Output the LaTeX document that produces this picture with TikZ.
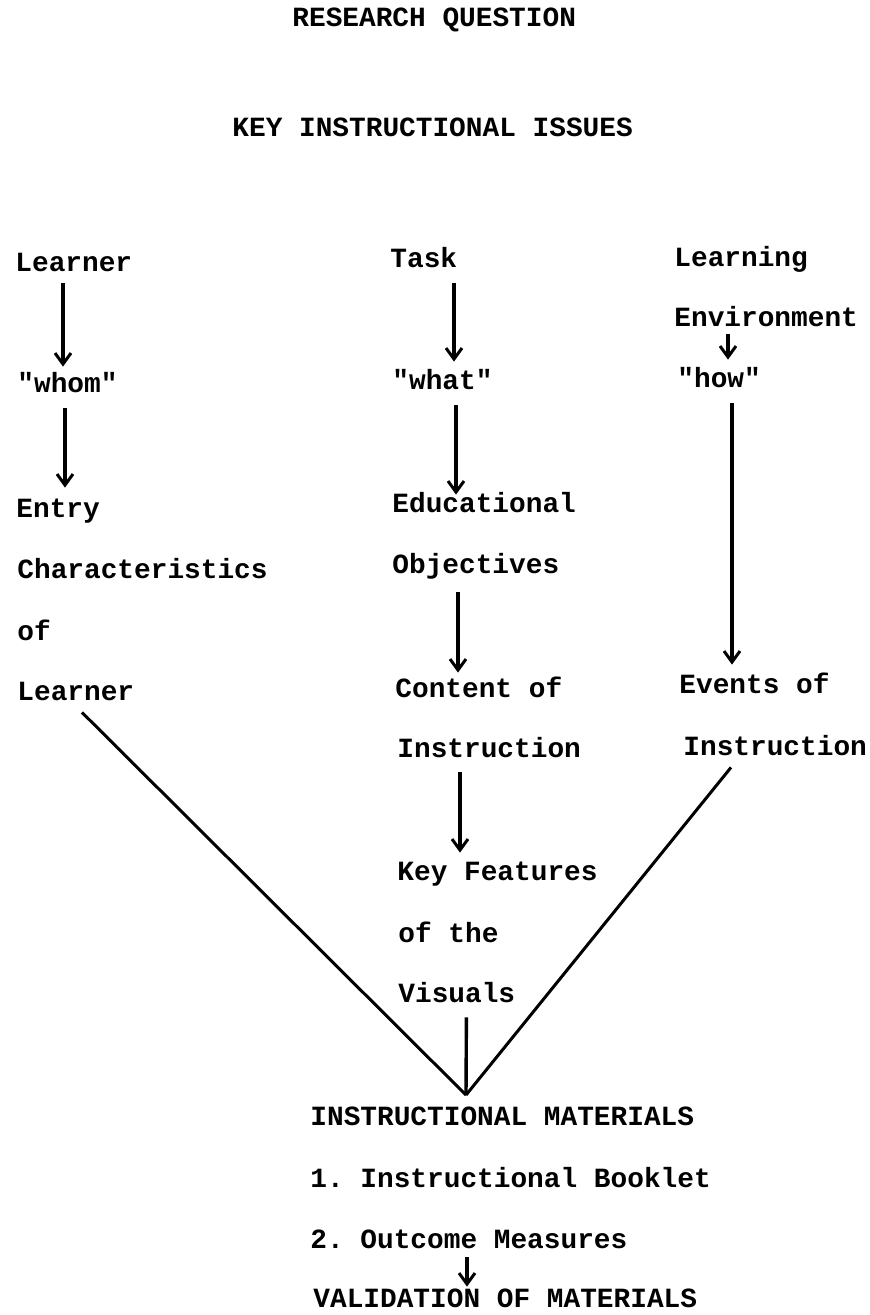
\documentclass[tikz,border=0pt]{standalone}
\usepackage{fontspec}
\setmainfont{Liberation Mono}
\usetikzlibrary{arrows.meta}
\frenchspacing

\begin{document}
\begin{tikzpicture}[x=0.5pt,y=-0.5pt,
    every node/.style={anchor=base west,inner sep=0pt,text height=8pt,text depth=2.5pt,
        font=\fontsize{13.9pt}{16pt}\selectfont\bfseries},
    arr/.style={-{Straight Barb[length=5.5pt,width=8pt,line width=1.5pt]},line width=1.6pt,shorten <=5pt,shorten >=5pt},
    ln/.style={line width=1.5pt,line join=round}]
                    \useasboundingbox (0,0) rectangle (869,1315);

                    \node (rq) at (292,27){RESEARCH QUESTION};
                    \node (kii) at (232,137){KEY INSTRUCTIONAL ISSUES};

                    % learner column
                    \node (learner) at (15,272){Learner};
                    \node (whom) at (17,393){\textquotedbl whom\textquotedbl};
                    \node (entry) at (16,517){Entry};
                    \node (charac) at (17,578){Characteristics};
                    \node (ofl) at (17,640){of};
                    \node (learnerb) at (17,700){Learner};

                    % task column
                    \node (task) at (390,268){Task};
                    \node (what) at (392,390){\textquotedbl what\textquotedbl};
                    \node (educ) at (392,512){Educational};
                    \node (obj) at (392,573){Objectives};
                    \node (content) at (395,697){Content of};
                    \node (instr) at (397,757){Instruction};
                    \node (keyf) at (397,880){Key Features};
                    \node (ofthe) at (398,942){of the};
                    \node (visuals) at (398,1002){Visuals};

                    % environment column
                    \node (learning) at (674,267){Learning};
                    \node (env) at (674,327){Environment};
                    \node (how) at (677,388){\textquotedbl how\textquotedbl};
                    \node (events) at (679,693){Events of};
                    \node (instrb) at (683,755){Instruction};

                    \node (im) at (310,1125){INSTRUCTIONAL MATERIALS};
                    \node (booklet) at (310,1187){1. Instructional Booklet};
                    \node (outcome) at (310,1248){2. Outcome Measures};
                    \node (valid) at (313,1307){VALIDATION OF MATERIALS};
                    \coordinate (vertex) at (466,1095);

                    \draw[arr,shorten <=3pt] ([xshift=24pt]learner.south west) -- ([xshift=24pt]learner.south west |- whom.north);
                    \draw[arr,shorten >=6.5pt] ([xshift=24pt]whom.south west) -- ([xshift=24pt]whom.south west |- entry.north);
                    \draw[arr,shorten >=6pt] ([xshift=32pt]task.south west) -- ([xshift=32pt]task.south west |- what.north);
                    \draw[arr,shorten >=0.5pt] ([xshift=32pt]what.south west) -- ([xshift=32pt]what.south west |- educ.north);
                    \draw[arr,shorten <=7pt,shorten >=4pt] ([xshift=33pt]obj.south west) -- ([xshift=33pt]obj.south west |- content.north);
                    \draw[arr,shorten >=5.5pt] ([xshift=31.5pt]instr.south west) -- ([xshift=31.5pt]instr.south west |- keyf.north);
                    \draw[arr,shorten <=1pt,shorten >=6pt] ([xshift=27pt]env.south west) -- ([xshift=27pt]env.south west |- how.north);
                    \draw[arr,shorten >=6pt] ([xshift=27.5pt]how.south west) -- ([xshift=27.5pt]how.south west |- events.north);
                    \draw[arr,shorten <=2pt,shorten >=2pt] ([xshift=78.5pt]outcome.south west) -- ([xshift=78.5pt]outcome.south west |- valid.north);

                    \draw[ln] ([xshift=32.5pt,yshift=-3.5pt]learnerb.south west) -- (vertex);
                    \draw[ln,line width=1.7pt] ([xshift=34.2pt,yshift=-5pt]visuals.south west) -- (vertex);
                    \draw[ln] ([xshift=24pt,yshift=-3.5pt]instrb.south west) -- (vertex);
                \end{tikzpicture}
\end{document}
